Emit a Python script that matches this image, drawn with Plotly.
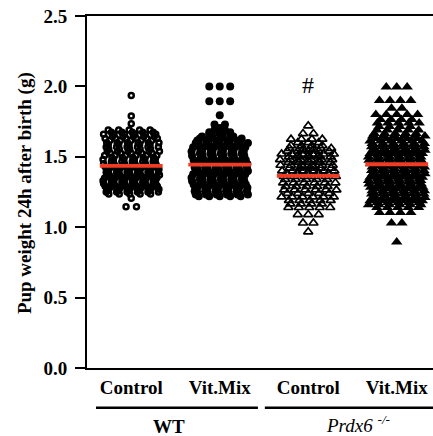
import plotly.graph_objects as go

# ---------------- data ----------------
categories = ["Control", "Vit.Mix", "Control", "Vit.Mix"]
genotypes = ["WT", "Prdx6"]
means = [1.435, 1.445, 1.364, 1.447]

# each group: beeswarm rows (value in g) and number of pups in that row
wt_ctrl_vals = [1.145, 1.205, 1.235,
                1.25, 1.26, 1.27, 1.28, 1.29, 1.30, 1.31, 1.32, 1.33, 1.34, 1.35,
                1.36, 1.37, 1.38, 1.39, 1.40, 1.41, 1.42, 1.43, 1.44, 1.45,
                1.465, 1.48, 1.495, 1.51, 1.525, 1.54, 1.555, 1.57, 1.585, 1.60,
                1.615, 1.63, 1.645, 1.66, 1.675,
                1.69, 1.735, 1.79, 1.935]
wt_ctrl_counts = [2, 1, 5,
                  6, 5, 6, 5, 6, 5, 6, 5, 6, 5, 6,
                  5, 6, 5, 6, 5, 6, 5, 6, 5, 6,
                  5, 6, 5, 6, 5, 6, 5, 6, 5, 6,
                  5, 6, 5, 6, 5,
                  5, 1, 1, 1]

wt_vit_vals = [1.22,
               1.232, 1.244, 1.256, 1.268, 1.28, 1.292, 1.304, 1.316, 1.328, 1.34,
               1.352, 1.364, 1.376, 1.388, 1.40, 1.412, 1.424, 1.436, 1.448,
               1.463, 1.478, 1.493, 1.508, 1.523, 1.538, 1.553, 1.568, 1.583, 1.598,
               1.615, 1.63, 1.645, 1.66, 1.675, 1.69, 1.705,
               1.73, 1.795, 1.895, 2.00]
wt_vit_counts = [5,
                 6, 5, 6, 5, 6, 5, 6, 5, 6, 5,
                 6, 5, 6, 5, 6, 5, 6, 5, 6,
                 5, 6, 5, 6, 5, 6, 5, 6, 5, 6,
                 5, 5, 4, 3, 3, 2, 1,
                 2, 1, 3, 3]

ko_ctrl_vals = [0.967, 1.03, 1.09, 1.14, 1.165,
                1.19, 1.215, 1.24, 1.265, 1.29, 1.315, 1.34, 1.36, 1.38, 1.40,
                1.42, 1.44, 1.46, 1.48, 1.50, 1.52, 1.54, 1.56, 1.58,
                1.39, 1.43, 1.47, 1.51, 1.55,
                1.60, 1.625, 1.665, 1.72]
ko_ctrl_counts = [1, 2, 3, 5, 4,
                  5, 6, 5, 6, 5, 6, 5, 6, 5, 6,
                  5, 6, 5, 6, 5, 6, 5, 5, 4,
                  3, 2, 3, 3, 2,
                  3, 4, 2, 1]

ko_vit_vals = [0.895, 1.03, 1.105, 1.14, 1.16,
               1.175, 1.187, 1.199, 1.211, 1.223, 1.235, 1.247, 1.259, 1.271, 1.283, 1.295, 1.307,
               1.319, 1.331, 1.343, 1.355, 1.367, 1.379, 1.391, 1.403, 1.415, 1.427, 1.439, 1.451,
               1.463, 1.475, 1.487, 1.499, 1.511, 1.523, 1.535, 1.547, 1.559, 1.571, 1.583, 1.595,
               1.612, 1.63, 1.648, 1.666, 1.69, 1.715, 1.74, 1.765, 1.80, 1.845, 1.90, 1.995]
ko_vit_counts = [1, 2, 4, 5, 6,
                 5, 6, 5, 6, 5, 6, 5, 6, 5, 6, 5, 6,
                 5, 6, 5, 6, 5, 6, 5, 6, 5, 6, 5, 6,
                 5, 6, 5, 6, 5, 6, 5, 6, 5, 6, 5, 6,
                 6, 5, 6, 5, 5, 4, 5, 4, 5, 2, 4, 3]

groups = [
    (wt_ctrl_vals, wt_ctrl_counts, dict(symbol="circle-open", size=5.0, color="black", line=dict(width=2.5, color="black"))),
    (wt_vit_vals, wt_vit_counts, dict(symbol="circle", size=8, color="black", line=dict(width=0))),
    (ko_ctrl_vals, ko_ctrl_counts, dict(symbol="triangle-up-open", size=8, color="black", line=dict(width=1.7, color="black"))),
    (ko_vit_vals, ko_vit_counts, dict(symbol="triangle-up", size=10, color="black", line=dict(width=0))),
]
for vals, counts, _ in groups:
    assert len(vals) == len(counts)

SERIF = "Liberation Serif, Times New Roman, serif"
DX = 0.118  # horizontal spacing of dots inside a row (category units)
ROW_SHIFT = [0.0, 0.2, -0.15, 0.1, -0.2, 0.15, -0.05]  # small per-row layout shift (fraction of DX)


def swarm(vals, counts, center):
    xs, ys = [], []
    for r, (v, n) in enumerate(zip(vals, counts)):
        shift = ROW_SHIFT[r % len(ROW_SHIFT)] * DX if n > 3 else 0.0
        for i in range(n):
            xs.append(center + (i - (n - 1) / 2) * DX + shift)
            ys.append(v)
    return xs, ys


fig = go.Figure()
for k, (vals, counts, marker) in enumerate(groups):
    xs, ys = swarm(vals, counts, k)
    fig.add_trace(go.Scatter(x=xs, y=ys, mode="markers", marker=marker,
                             showlegend=False, hoverinfo="y", cliponaxis=False))

for k, m in enumerate(means):
    fig.add_trace(go.Scatter(x=[k - 0.355, k + 0.355], y=[m, m], mode="lines",
                             line=dict(color="#f03c24", width=3.8),
                             showlegend=False, hoverinfo="y"))

fig.update_layout(
    width=433, height=436,
    margin=dict(l=87, r=0, t=16, b=68),
    paper_bgcolor="white", plot_bgcolor="white",
    font=dict(family=SERIF, color="black", size=19),
)
fig.update_xaxes(
    range=[-0.5, 3.41], tickvals=[0, 1, 2, 3], ticktext=categories,
    showline=True, linewidth=2, linecolor="black", mirror=True,
    ticks="", showgrid=False, zeroline=False,
    tickfont=dict(family=SERIF, size=19, weight="bold"),
    ticklabelstandoff=1,
)
fig.update_yaxes(
    range=[0, 2.5], dtick=0.5, tick0=0, tickformat=".1f",
    showline=True, linewidth=2, linecolor="black", mirror=False,
    ticks="outside", ticklen=10, tickwidth=2, tickcolor="black",
    showgrid=False, zeroline=False,
    tickfont=dict(family=SERIF, size=19, weight="bold"),
    ticklabelstandoff=4,
)

# group underlines
fig.add_shape(type="line", xref="paper", yref="paper", x0=0.026, x1=0.494, y0=-0.113, y1=-0.113,
              line=dict(color="black", width=2.5))
fig.add_shape(type="line", xref="paper", yref="paper", x0=0.514, x1=1.0, y0=-0.113, y1=-0.113,
              line=dict(color="black", width=2.5))

fig.add_annotation(text="<b>" + genotypes[0] + "</b>", xref="paper", yref="paper", x=0.237, y=-0.165,
                   xanchor="center", yanchor="middle", showarrow=False,
                   font=dict(family=SERIF, size=19))
fig.add_annotation(text="<i>" + genotypes[1] + " <sup>-/-</sup></i>", xref="paper", yref="paper", x=0.783, y=-0.158,
                   xanchor="center", yanchor="middle", showarrow=False,
                   font=dict(family=SERIF, size=19))
fig.add_annotation(text="#", xref="x", yref="y", x=2, y=2.01, xanchor="center", yanchor="middle",
                   showarrow=False, font=dict(family=SERIF, size=24))
fig.add_annotation(text="<b>Pup weight 24h after birth (g)</b>", xref="paper", yref="paper",
                   x=-0.179, y=0.497, xanchor="center", yanchor="middle", textangle=-90,
                   showarrow=False, font=dict(family=SERIF, size=19))

fig.write_html("out.html", config={"displayModeBar": False},
               post_script="document.body.style.margin='0px';")
